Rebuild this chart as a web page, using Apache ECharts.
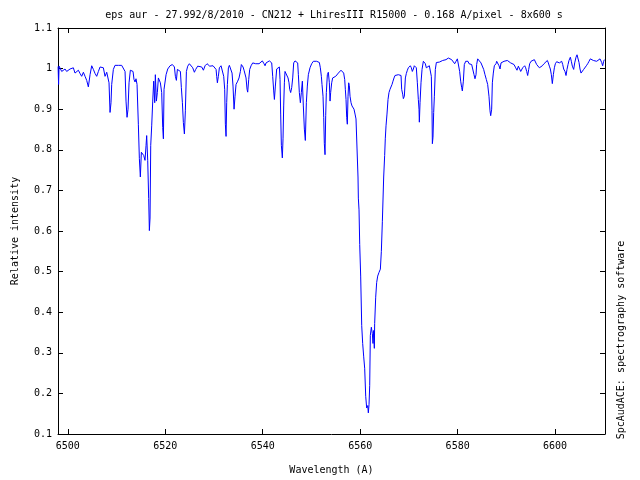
<!DOCTYPE html>
<html>
<head>
<meta charset="utf-8">
<script src="https://cdn.jsdelivr.net/npm/echarts@6/dist/echarts.min.js"></script>
<style>html,body{margin:0;padding:0;background:#fff}#c{width:640px;height:480px}</style>
</head>
<body>
<div id="c"></div>
<script>
const titleText = 'eps aur - 27.992/8/2010 - CN212 + LhiresIII R15000 - 0.168 A/pixel - 8x600 s';
const xName = 'Wavelength (A)';
const yName = 'Relative intensity';
const sideNote = 'SpcAudACE: spectrography software';

const xTicks = [6500, 6520, 6540, 6560, 6580, 6600];
const yTicks = [0.1, 0.2, 0.3, 0.4, 0.5, 0.6, 0.7, 0.8, 0.9, 1.0, 1.1];
const yTickLabels = ['0.1', '0.2', '0.3', '0.4', '0.5', '0.6', '0.7', '0.8', '0.9', '1', '1.1'];

const wavelength = [
6498.00,6498.10,6498.20,6498.40,6498.74,6499.08,6499.42,6499.76,6500.11,6500.45,
6500.79,6501.13,6501.47,6501.82,6502.16,6502.50,6502.84,6503.19,6503.53,6503.87,
6504.21,6504.56,6504.90,6505.24,6505.58,6505.92,6506.27,6506.61,6506.95,6507.29,
6507.63,6507.98,6508.18,6508.45,6508.66,6508.86,6509.00,6509.34,6509.68,6510.37,
6510.71,6511.05,6511.40,6511.74,6511.94,6512.15,6512.35,6512.56,6512.83,6513.10,
6513.38,6513.58,6513.79,6513.99,6514.20,6514.47,6514.68,6514.88,6515.09,6515.29,
6515.57,6515.84,6516.05,6516.18,6516.39,6516.59,6516.73,6516.87,6517.01,6517.21,
6517.42,6517.62,6517.83,6517.96,6518.17,6518.37,6518.58,6518.78,6518.99,6519.26,
6519.47,6519.61,6519.74,
6520.16,6520.50,6520.98,6521.45,6521.87,6522.07,6522.28,6522.48,6522.82,6523.10,
6523.30,6523.51,6523.71,6523.92,6524.12,6524.33,6524.60,6524.94,6525.29,6525.63,
6525.97,6526.24,6526.65,6527.06,6527.47,6527.82,6528.16,6528.57,6528.91,6529.12,
6529.46,6529.80,6530.14,6530.42,6530.55,6530.69,6530.89,6531.10,6531.44,6531.78,
6531.99,6532.19,6532.33,6532.47,6532.60,6532.74,6532.95,6533.15,6533.49,6533.70,
6533.90,6534.11,6534.31,6534.52,6534.86,6535.13,6535.41,6535.61,6535.96,6536.16,
6536.37,6536.57,6536.78,6536.91,6537.12,6537.32,6537.60,6537.94,6538.28,6538.55,
6538.90,6539.24,6539.58,6539.92,6540.26,6540.47,6540.68,6540.95,6541.36,6541.63,
6541.84,6542.04,6542.25,6542.39,6542.59,
6542.86,6543.20,6543.41,6543.55,6543.68,6543.82,6544.02,6544.16,6544.30,6544.44,
6544.57,6544.78,6544.98,6545.19,6545.39,6545.53,6545.73,6545.94,6546.15,6546.35,
6546.62,6546.90,6547.17,6547.31,6547.51,6547.72,6547.92,6548.13,6548.33,6548.54,
6548.74,6548.95,6549.15,6549.36,6549.70,6550.04,6550.39,6550.73,6551.07,6551.41,
6551.62,6551.82,6552.03,6552.16,6552.37,6552.51,6552.64,6552.78,6552.92,6553.05,
6553.26,6553.46,6553.67,6553.81,6553.94,6554.15,6554.35,6554.56,6554.76,6554.97,
6555.24,6555.52,6555.79,6556.06,6556.34,6556.61,6556.82,6556.95,6557.09,6557.23,
6557.36,6557.50,6557.64,6557.77,6557.91,6558.12,6558.32,6558.53,6558.73,6558.94,
6559.14,6559.35,6559.55,
6559.62,6559.76,6559.90,6560.10,6560.31,6560.51,6560.72,6560.92,6561.13,6561.33,
6561.54,6561.67,6561.81,6561.95,6562.08,6562.29,6562.49,6562.63,6562.77,6562.90,
6562.97,6563.18,6563.38,6563.59,6563.86,6564.14,6564.34,6564.55,6564.82,6565.02,
6565.15,
6565.30,6565.50,6565.71,6565.91,6566.12,6566.32,6566.53,6566.73,6566.94,6567.14,
6567.49,6567.83,6568.17,6568.38,6568.51,6568.72,6568.86,6569.06,6569.27,6569.47,
6569.68,6569.88,6570.09,6570.29,6570.50,6570.70,6570.91,6571.11,6571.32,6571.52,
6571.73,6571.93,6572.07,6572.14,6572.28,6572.48,6572.69,6572.96,6573.16,6573.37,
6573.57,6573.78,6573.98,6574.19,6574.40,6574.60,6574.74,6574.81,6574.94,6575.08,
6575.22,6575.42,6575.63,6575.90,6576.24,6576.58,6576.93,6577.27,6577.61,6577.82,
6578.09,6578.43,6578.77,6579.12,6579.39,6579.66,6579.94,6580.14,6580.41,6580.62,
6580.83,6580.96,6581.17,6581.37,6581.65,6581.92,6582.12,6582.33,6582.60,6582.88,
6583.15,6583.36,6583.56,6583.77,6583.90,6584.11,6584.45,6584.79,6585.13,6585.34,
6585.61,6585.89,6586.16,6586.43,6586.64,6586.78,6586.98,6587.12,6587.32,6587.53,
6587.87,
6588.01,6588.29,6588.49,6588.70,6588.90,6589.17,6589.52,6589.86,6590.20,6590.54,
6590.88,6591.23,6591.57,6591.91,6592.18,6592.46,6592.66,6592.94,6593.14,6593.35,
6593.55,6593.76,6593.96,6594.17,6594.37,6594.58,6594.78,6595.06,6595.40,6595.74,
6595.95,6596.22,6596.49,6596.77,6597.04,6597.38,6597.72,6598.07,6598.41,6598.61,
6598.82,6599.02,6599.23,6599.43,6599.64,6599.85,6600.05,6600.32,6600.60,6600.87,
6601.14,6601.35,6601.56,6601.76,6602.03,6602.24,6602.44,6602.65,6602.85,6603.13,
6603.33,6603.54,6603.81,6604.02,6604.29,6604.50,6604.70,6604.91,6605.11,6605.32,
6605.59,6605.86,6606.14,6606.41,6606.69,6606.96,6607.23,6607.51,6607.85,6608.19,
6608.53,6608.87,6609.22,6609.56,6609.76,6609.97,6610.11
];

const intensity = [
1.005,0.961,1.006,1.002,0.993,0.996,0.999,0.993,0.991,0.999,
1.003,1.002,0.989,0.985,0.996,0.988,0.981,0.991,0.981,0.971,
0.955,0.985,1.007,0.998,0.988,0.981,0.993,1.004,1.007,1.002,
0.981,0.991,0.993,0.965,0.892,0.916,0.961,0.998,1.008,1.008,
1.006,1.008,1.004,0.993,0.920,0.880,0.900,0.965,0.996,0.999,
0.993,0.973,0.967,0.975,0.961,0.863,0.778,0.733,0.794,0.798,
0.786,0.774,0.811,0.835,0.774,0.680,0.601,0.632,0.811,0.859,
0.920,0.969,0.916,0.985,0.920,0.941,0.977,0.975,0.965,0.941,
0.855,0.827,0.949,
0.985,0.999,1.007,1.010,1.004,0.981,0.971,0.998,1.002,0.993,
0.953,0.916,0.867,0.839,0.896,0.993,1.006,1.012,1.008,1.002,
0.991,0.998,1.006,1.010,1.004,0.996,1.007,1.012,1.014,1.006,
1.002,1.007,1.010,0.998,0.981,0.965,0.981,1.002,1.007,1.006,
0.981,0.949,0.863,0.833,0.916,0.961,1.002,1.008,1.010,0.989,
0.957,0.900,0.932,0.961,0.969,0.977,0.993,1.010,1.004,0.996,
0.993,0.977,0.949,0.942,0.973,0.998,1.007,1.014,1.014,1.012,
1.015,1.012,1.015,1.019,1.012,1.007,1.014,1.018,1.019,1.018,
1.014,0.981,0.945,0.924,0.957,
0.999,1.002,1.004,0.973,0.888,0.811,0.780,0.827,0.908,0.965,
0.993,0.996,0.989,0.977,0.965,0.949,0.941,0.953,0.977,1.014,
1.019,1.015,1.014,0.985,0.941,0.916,0.941,0.969,0.908,0.851,
0.823,0.916,0.957,0.985,1.002,1.012,1.018,1.019,1.018,1.022,
1.015,1.002,0.981,0.961,0.932,0.880,0.815,0.788,0.884,0.941,
0.985,0.991,0.965,0.920,0.941,0.965,0.977,0.981,0.980,0.981,
0.985,0.989,0.993,0.996,0.993,0.989,0.973,0.949,0.924,0.880,
0.863,0.932,0.965,0.958,0.932,0.916,0.908,0.912,0.900,0.888,
0.876,0.802,0.733,
0.681,0.652,0.567,0.489,0.367,0.323,0.290,0.262,0.193,0.164,
0.170,0.152,0.172,0.219,0.343,0.363,0.347,0.323,0.355,0.311,
0.372,0.437,0.473,0.489,0.498,0.506,0.550,0.624,0.733,0.786,
0.827,
0.859,0.888,0.924,0.941,0.949,0.950,0.961,0.969,0.977,0.983,
0.985,0.985,0.985,0.983,0.949,0.937,0.926,0.932,0.977,0.988,
0.996,1.002,1.004,1.007,1.002,0.993,0.999,1.007,1.010,1.002,
0.965,0.924,0.900,0.868,0.916,0.965,0.998,1.018,1.022,1.012,
1.002,1.006,1.002,1.007,1.004,0.981,0.896,0.815,0.831,0.892,
0.932,0.998,1.015,1.015,1.016,1.018,1.020,1.022,1.022,1.026,
1.026,1.022,1.022,1.018,1.012,1.018,1.024,1.022,0.993,0.969,
0.953,0.945,0.969,1.010,1.018,1.020,1.018,1.012,1.010,1.010,
1.007,0.985,0.975,0.985,1.010,1.024,1.020,1.014,1.010,0.998,
0.985,0.973,0.961,0.932,0.896,0.884,0.900,0.965,0.989,1.007,
1.012,
1.018,1.020,1.007,0.999,1.014,1.015,1.018,1.022,1.020,1.018,
1.014,1.014,1.010,1.002,0.996,1.006,1.002,0.993,0.996,1.002,
1.004,1.007,1.002,0.993,0.983,0.998,1.012,1.018,1.019,1.022,
1.018,1.010,1.006,1.002,1.006,1.007,1.012,1.015,1.020,1.014,
1.006,0.999,0.985,0.963,0.985,1.002,1.012,1.017,1.015,1.014,
1.015,1.018,1.010,0.999,0.993,0.983,0.998,1.010,1.020,1.028,
1.018,1.006,0.998,1.014,1.028,1.034,1.030,1.015,0.999,0.989,
0.993,0.998,1.002,1.007,1.012,1.018,1.024,1.022,1.020,1.024,
1.018,1.022,1.024,1.015,1.007,1.018,1.022
];

const X_MIN = 6497.98, X_MAX = 6610.24;
const Y_MIN = 0.1, Y_MAX = 1.1;

const seriesData = wavelength.map((w, i) => [w, intensity[i]]);

const FONT = 'DejaVu Sans Mono';
const axisCommon = {
  type: 'value',
  axisLine: { show: true, onZero: false, lineStyle: { color: '#000', width: 1 } },
  axisTick: { show: true, inside: true, length: 5, lineStyle: { color: '#000', width: 1 } },
  splitLine: { show: false },
  minorTick: { show: false }
};

const chart = echarts.init(document.getElementById('c'), null, { renderer: 'canvas' });
chart.setOption({
  animation: false,
  backgroundColor: '#ffffff',
  title: {
    text: titleText,
    left: 329,
    top: 5,
    textAlign: 'center',
    textStyle: { fontFamily: FONT, fontSize: 10, fontWeight: 'normal', color: '#000' }
  },
  grid: { left: 58, right: 35, top: 28, bottom: 42, containLabel: false },
  xAxis: [
    Object.assign({}, axisCommon, {
      position: 'bottom', min: X_MIN, max: X_MAX,
      name: xName, nameLocation: 'middle', nameGap: 31,
      nameTextStyle: { fontFamily: FONT, fontSize: 10, color: '#000' },
      axisTick: Object.assign({}, axisCommon.axisTick, { customValues: xTicks }),
      axisLabel: { show: true, customValues: xTicks, margin: 7, fontFamily: FONT, fontSize: 10, color: '#000',
                   formatter: v => String(Math.round(v)) }
    }),
    Object.assign({}, axisCommon, {
      position: 'top', min: X_MIN, max: X_MAX,
      axisTick: Object.assign({}, axisCommon.axisTick, { customValues: xTicks }),
      axisLabel: { show: false, customValues: xTicks }
    })
  ],
  yAxis: [
    Object.assign({}, axisCommon, {
      position: 'left', min: Y_MIN, max: Y_MAX,
      name: yName, nameLocation: 'middle', nameGap: 38, nameRotate: 90,
      nameTextStyle: { fontFamily: FONT, fontSize: 10, color: '#000' },
      axisTick: Object.assign({}, axisCommon.axisTick, { customValues: yTicks }),
      axisLabel: { show: true, customValues: yTicks, margin: 6, fontFamily: FONT, fontSize: 10, color: '#000',
                   formatter: v => { const i = yTicks.findIndex(t => Math.abs(t - v) < 1e-6); return i >= 0 ? yTickLabels[i] : ''; } }
    }),
    Object.assign({}, axisCommon, {
      position: 'right', min: Y_MIN, max: Y_MAX,
      axisTick: Object.assign({}, axisCommon.axisTick, { customValues: yTicks }),
      axisLabel: { show: false, customValues: yTicks }
    })
  ],
  graphic: [{
    type: 'text',
    x: 621, y: 340,
    rotation: Math.PI / 2,
    style: { text: sideNote, fill: '#000', font: '10px "DejaVu Sans Mono"', align: 'center', verticalAlign: 'middle' }
  }],
  series: [{
    type: 'line',
    xAxisIndex: 0, yAxisIndex: 0,
    data: seriesData,
    showSymbol: false,
    symbol: 'none',
    lineStyle: { color: '#0000ff', width: 1 },
    clip: true
  }]
});
</script>
</body>
</html>
